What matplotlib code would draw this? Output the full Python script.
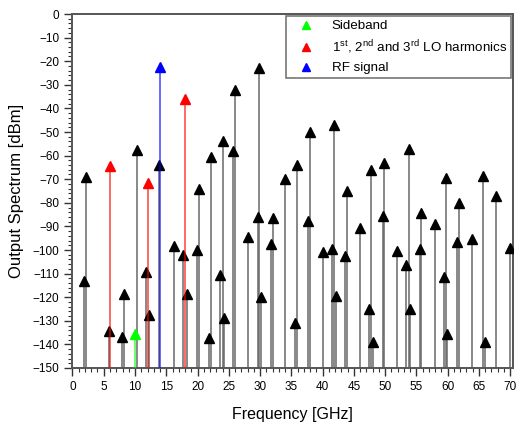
import numpy as np
import matplotlib
matplotlib.use('Agg')
import matplotlib.pyplot as plt
from matplotlib.lines import Line2D
from matplotlib.ticker import MultipleLocator

plt.rcParams['font.family'] = ['Liberation Sans', 'DejaVu Sans']
plt.rcParams['mathtext.fontset'] = 'custom'
plt.rcParams['mathtext.rm'] = 'Liberation Sans'

# mixing products (black)
freq_mix = [1.85, 2.1, 5.8, 7.9, 8.2, 10.25, 11.7, 12.3, 13.8, 16.2,
            17.7, 18.3, 19.9, 20.2, 21.9, 22.2, 23.65, 24.0, 24.2, 25.7,
            26.0, 28.1, 29.6, 29.9, 30.2, 31.7, 32.0, 34.0, 35.6, 35.9,
            37.7, 38.0, 40.0, 41.5, 41.8, 42.1, 43.6, 43.9, 46.0, 47.5,
            47.8, 48.1, 49.6, 49.9, 51.9, 53.4, 53.8, 54.0, 55.5, 55.8,
            57.9, 59.4, 59.7, 59.95, 61.5, 61.8, 63.9, 65.7, 65.9, 67.8,
            69.9]
pow_mix = [-113, -69, -134.5, -137, -118.5, -57.5, -109.5, -127.5, -64, -98.5,
           -102, -118.5, -100, -74, -137.5, -60.5, -110.5, -54, -129, -58,
           -32, -94.5, -86, -23, -120, -97.5, -86.5, -70, -131, -64,
           -87.5, -50, -101, -99.5, -47, -119.5, -102.5, -75, -90.5, -125,
           -66, -139, -85.5, -63, -100.5, -106.5, -57, -125, -99.5, -84.5,
           -89, -111.5, -69.5, -135.5, -96.5, -80, -95.5, -68.5, -139, -77,
           -99]

freq_side = [10.0]
pow_side = [-135.5]
freq_lo = [6.0, 12.0, 18.0]
pow_lo = [-64.3, -71.5, -36]
freq_rf = [13.95]
pow_rf = [-22.5]

fig = plt.figure(figsize=(5.2, 4.3), dpi=100)
ax = fig.add_axes([0.1394, 0.1442, 0.8471, 0.8232])

fondo = -150
ax.vlines(freq_mix, fondo, pow_mix, color='#686868', lw=1.1, zorder=2)
ax.plot(freq_mix, pow_mix, '^', color='k', ms=7.5, zorder=3)

series = [(freq_side, pow_side, '#00ff00'),
          (freq_lo, pow_lo, '#ff0000'),
          (freq_rf, pow_rf, '#0000ff')]
for f, p, c in series:
    ax.vlines(f, fondo, p, color=c, lw=1.1, alpha=0.75, zorder=4)
    ax.plot(f, p, '^', color=c, ms=7.5, zorder=5)

ax.set_xlim(0, 70.45)
ax.set_ylim(-150, 0)
ax.xaxis.set_major_locator(MultipleLocator(5))
ax.xaxis.set_minor_locator(MultipleLocator(1))
ax.yaxis.set_major_locator(MultipleLocator(10))
ax.yaxis.set_minor_locator(MultipleLocator(2))
ax.tick_params(which='major', direction='out', length=6, width=1, labelsize=8.5, color='#333333')
ax.tick_params(which='minor', direction='out', length=3, width=0.8, color='#333333')
for s in ax.spines.values():
    s.set_color('#555555')
    s.set_linewidth(1.4)

ax.set_xlabel('Frequency [GHz]', fontsize=11.5, labelpad=10)
ax.set_ylabel('Output Spectrum [dBm]', fontsize=12, labelpad=6)

handles = [Line2D([], [], ls='none', marker='^', color='#00ff00', ms=6),
           Line2D([], [], ls='none', marker='^', color='#ff0000', ms=6),
           Line2D([], [], ls='none', marker='^', color='#0000ff', ms=6)]
labels = ['Sideband', r'1$^{\rm st}$, 2$^{\rm nd}$ and 3$^{\rm rd}$ LO harmonics', 'RF signal']
leg = ax.legend(handles, labels, loc='upper right', fontsize=9.6, fancybox=False,
                borderaxespad=0.15, handletextpad=0.7, labelspacing=0.45,
                borderpad=0.3, handlelength=2.4)
leg.get_frame().set_edgecolor('#555555')
leg.get_frame().set_linewidth(1.2)

plt.savefig('out.png', dpi=100)
